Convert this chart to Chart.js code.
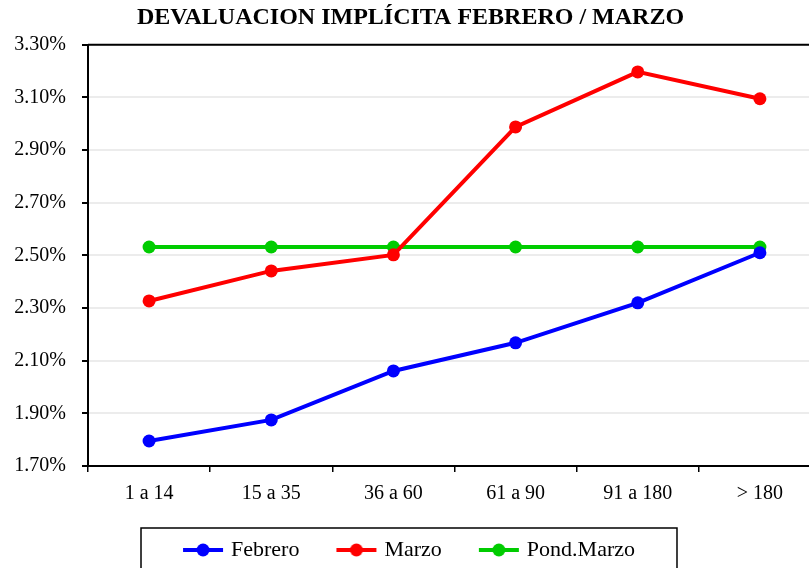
<!DOCTYPE html>
<html>
<head>
<meta charset="utf-8">
<script src="https://cdn.jsdelivr.net/npm/chart.js@4.4.1/dist/chart.umd.min.js"></script>
<style>
  html, body { margin: 0; padding: 0; background: #fff; overflow: hidden; }
  #wrap { width: 809px; height: 568px; overflow: hidden; position: relative; }
  canvas { display: block; }
</style>
</head>
<body>
<div id="wrap"><canvas id="c" width="828" height="568"></canvas></div>
<script>
const categories = ['1 a 14', '15 a 35', '36 a 60', '61 a 90', '91 a 180', '> 180'];
const febrero = [1.795, 1.875, 2.061, 2.168, 2.320, 2.510];
const marzo = [2.327, 2.441, 2.502, 2.988, 3.197, 3.095];
const pondMarzo = [2.532, 2.532, 2.532, 2.532, 2.532, 2.532];
const seriesNames = ['Febrero', 'Marzo', 'Pond.Marzo'];
const seriesColors = ['#0000FF', '#FF0000', '#00CC00'];
const chartTitle = 'DEVALUACION IMPLÍCITA FEBRERO / MARZO';

const FONT = '"Liberation Serif", "Times New Roman", serif';

function legendSymbol(color) {
  const c = document.createElement('canvas');
  c.width = 44; c.height = 14;
  const g = c.getContext('2d');
  g.strokeStyle = color; g.lineWidth = 4;
  g.beginPath(); g.moveTo(2, 7); g.lineTo(42, 7); g.stroke();
  g.fillStyle = color;
  g.beginPath(); g.arc(22, 7, 6.5, 0, Math.PI * 2); g.fill();
  return c;
}

const frameAndLegendBox = {
  id: 'frameAndLegendBox',
  afterDraw(chart) {
    const ctx = chart.ctx;
    const a = chart.chartArea;
    ctx.save();
    ctx.strokeStyle = '#000';
    ctx.lineWidth = 2;
    ctx.beginPath();
    ctx.moveTo(a.left, a.top);
    ctx.lineTo(a.right + 2, a.top);
    ctx.stroke();
    const lg = chart.legend;
    if (lg && lg.legendHitBoxes && lg.legendHitBoxes.length) {
      const hb = lg.legendHitBoxes;
      const l = Math.min(...hb.map(h => h.left)) - 45;
      const r = Math.max(...hb.map(h => h.left + h.width)) + 42;
      const cy = hb[0].top + hb[0].height / 2;
      ctx.lineWidth = 1.5;
      ctx.strokeRect(l, cy - 22, r - l, 44);
    }
    ctx.restore();
  }
};

const datasets = [febrero, marzo, pondMarzo].map((d, i) => ({
  label: seriesNames[i],
  data: d,
  borderColor: seriesColors[i],
  backgroundColor: seriesColors[i],
  borderWidth: 4,
  pointRadius: 6.5,
  pointHoverRadius: 6.5,
  pointBackgroundColor: seriesColors[i],
  pointBorderWidth: 0,
  tension: 0
}));

new Chart(document.getElementById('c'), {
  type: 'line',
  data: { labels: categories, datasets },
  options: {
    responsive: false,
    animation: false,
    layout: { padding: { left: 0, right: 7, top: 0, bottom: -3 } },
    plugins: {
      title: {
        display: true,
        text: chartTitle,
        color: '#000',
        font: { family: FONT, size: 24, weight: 'bold', lineHeight: 1.2 },
        padding: { top: 3, bottom: 13 }
      },
      legend: {
        position: 'bottom',
        labels: {
          color: '#000',
          font: { family: FONT, size: 22 },
          usePointStyle: true,
          pointStyleWidth: 34,
          padding: 40,
          generateLabels(chart) {
            const items = Chart.defaults.plugins.legend.labels.generateLabels(chart);
            items.forEach((it, i) => { it.pointStyle = legendSymbol(seriesColors[i]); });
            return items;
          }
        }
      },
      tooltip: { enabled: false }
    },
    scales: {
      x: {
        offset: true,
        grid: { offset: true, drawOnChartArea: false, drawTicks: true, tickLength: 6, color: '#000', lineWidth: 1.5 },
        border: { color: '#000', width: 2 },
        ticks: { color: '#000', font: { family: FONT, size: 20 }, padding: 10, maxRotation: 0 },
        afterFit(scale) { scale.height = 33; scale.paddingLeft = 0; scale.paddingRight = 0; }
      },
      y: {
        min: 1.7,
        max: 3.3,
        grid: { color: '#ececec', lineWidth: 2, tickColor: '#000', tickLength: 6 },
        border: { color: '#000', width: 2 },
        ticks: {
          stepSize: 0.2,
          color: '#000',
          font: { family: FONT, size: 20 },
          padding: 16,
          callback: v => v.toFixed(2) + '%'
        },
        afterFit(scale) { scale.width = 88; }
      }
    }
  },
  plugins: [frameAndLegendBox]
});
</script>
</body>
</html>
